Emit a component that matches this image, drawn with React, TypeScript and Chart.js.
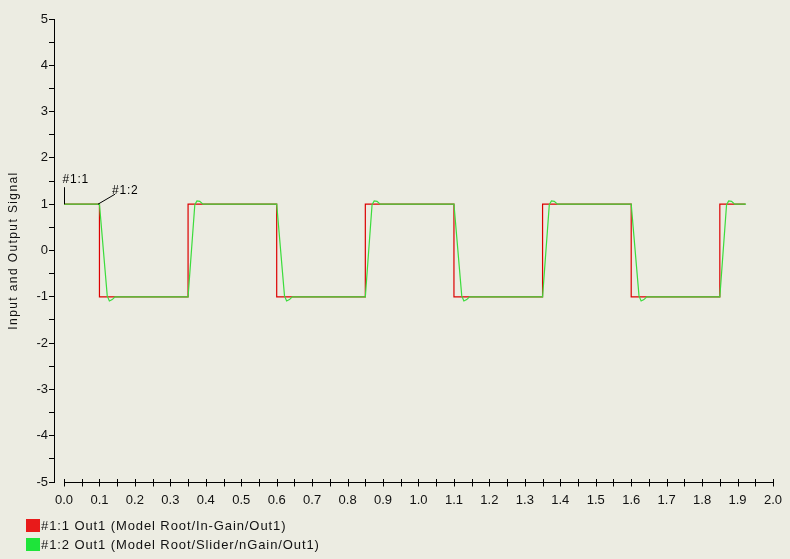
import React, { useEffect, useRef } from 'react';
import { Chart, registerables } from 'chart.js';

Chart.register(...registerables);

// Square-wave input (#1:1): time [s] and value pairs
const inputTime = [0, 0.1, 0.1, 0.35, 0.35, 0.6, 0.6, 0.85, 0.85, 1.1, 1.1, 1.35, 1.35, 1.6, 1.6, 1.85, 1.85, 1.922];
const inputValue = [1, 1, -1, -1, 1, 1, -1, -1, 1, 1, -1, -1, 1, 1, -1, -1, 1, 1];

// Filtered output (#1:2): lags each edge and rings slightly
const outputTime = [
  0, 0.1, 0.122, 0.128, 0.136, 0.144,
  0.35, 0.369, 0.375, 0.383, 0.392,
  0.6, 0.622, 0.628, 0.636, 0.644,
  0.85, 0.869, 0.875, 0.883, 0.892,
  1.1, 1.122, 1.128, 1.136, 1.144,
  1.35, 1.369, 1.375, 1.383, 1.392,
  1.6, 1.622, 1.628, 1.636, 1.644,
  1.85, 1.869, 1.875, 1.883, 1.892, 1.924,
];
const outputValue = [
  1, 1, -0.98, -1.09, -1.06, -1.0,
  -1, 0.99, 1.07, 1.06, 1.0,
  1, -0.98, -1.09, -1.06, -1.0,
  -1, 0.99, 1.07, 1.06, 1.0,
  1, -0.98, -1.09, -1.06, -1.0,
  -1, 0.99, 1.07, 1.06, 1.0,
  1, -0.98, -1.09, -1.06, -1.0,
  -1, 0.99, 1.07, 1.06, 1.0, 1.0,
];

// Axis ticks
const xTickValues = [
  0, 0.05, 0.1, 0.15, 0.2, 0.25, 0.3, 0.35, 0.4, 0.45, 0.5, 0.55, 0.6, 0.65, 0.7, 0.75, 0.8, 0.85, 0.9, 0.95,
  1.0, 1.05, 1.1, 1.15, 1.2, 1.25, 1.3, 1.35, 1.4, 1.45, 1.5, 1.55, 1.6, 1.65, 1.7, 1.75, 1.8, 1.85, 1.9, 1.95, 2.0,
];
const xTickLabels = ['0.0', '0.1', '0.2', '0.3', '0.4', '0.5', '0.6', '0.7', '0.8', '0.9', '1.0',
  '1.1', '1.2', '1.3', '1.4', '1.5', '1.6', '1.7', '1.8', '1.9', '2.0'];

const yAxisTitle = 'Input and Output Signal';
const seriesNames = ['#1:1 Out1 (Model Root/In-Gain/Out1)', '#1:2 Out1 (Model Root/Slider/nGain/Out1)'];
const seriesTags = ['#1:1', '#1:2'];
const seriesColors = ['#dc0000', '#3cdc3c'];
const legendColors = ['#e81a1a', '#1ee43a'];

const FONT = '"Liberation Sans", Arial, sans-serif';
const BG = '#ecece2';

const toPoints = (t: number[], v: number[]) => t.map((tt, i) => ({ x: tt, y: v[i] }));

// Axis line, crossing tick marks, the y title and the series tags
const decorPlugin = {
  id: 'decor',
  afterDraw(chart: any) {
    const { ctx, chartArea } = chart;
    const xs = chart.scales.x;
    const ys = chart.scales.y;
    const yb = Math.round(chartArea.bottom) + 0.5;
    ctx.save();
    ctx.strokeStyle = '#000';
    ctx.lineWidth = 1;
    ctx.beginPath();
    ctx.moveTo(Math.round(xs.getPixelForValue(0)), yb);
    ctx.lineTo(Math.round(xs.getPixelForValue(2)) + 1, yb);
    xTickValues.forEach((v) => {
      const px = Math.round(xs.getPixelForValue(v)) + 0.5;
      ctx.moveTo(px, yb - 3.5);
      ctx.lineTo(px, yb + 4);
    });
    ctx.stroke();

    // vertical axis title
    ctx.fillStyle = '#111';
    ctx.font = `12px ${FONT}`;
    (ctx as any).letterSpacing = '1.4px';
    ctx.save();
    ctx.translate(17, (chartArea.top + chartArea.bottom) / 2);
    ctx.rotate(-Math.PI / 2);
    ctx.textAlign = 'center';
    ctx.textBaseline = 'alphabetic';
    ctx.fillText(yAxisTitle, 0, 0);
    ctx.restore();

    // tag for #1:1, anchored at its first sample
    (ctx as any).letterSpacing = '0.8px';
    const a1x = Math.round(xs.getPixelForValue(inputTime[0])) + 0.5;
    const a1y = ys.getPixelForValue(inputValue[0]);
    ctx.beginPath();
    ctx.moveTo(a1x, a1y);
    ctx.lineTo(a1x, a1y - 17);
    ctx.stroke();
    ctx.fillStyle = '#000';
    ctx.font = `12px ${FONT}`;
    ctx.textBaseline = 'alphabetic';
    ctx.textAlign = 'left';
    ctx.fillText(seriesTags[0], a1x - 2, a1y - 21);

    // tag for #1:2
    const a2x = xs.getPixelForValue(0.096);
    const a2y = ys.getPixelForValue(outputValue[1]);
    ctx.beginPath();
    ctx.moveTo(a2x, a2y);
    ctx.lineTo(a2x + 17, a2y - 10);
    ctx.stroke();
    ctx.fillText(seriesTags[1], a2x + 14, a2y - 10);
    (ctx as any).letterSpacing = '0px';
    ctx.restore();
  },
};

export default function App() {
  const canvasRef = useRef<HTMLCanvasElement | null>(null);

  useEffect(() => {
    document.body.style.margin = '0';
    const canvas = canvasRef.current;
    if (!canvas) return;
    const chart = new Chart(canvas, {
      type: 'line',
      data: {
        datasets: [
          {
            label: seriesNames[0],
            data: toPoints(inputTime, inputValue),
            borderColor: seriesColors[0],
            borderWidth: 1.2,
            pointRadius: 0,
            tension: 0,
            order: 1,
          },
          {
            label: seriesNames[1],
            data: toPoints(outputTime, outputValue),
            borderColor: seriesColors[1],
            borderWidth: 1.2,
            pointRadius: 0,
            tension: 0,
            order: 0,
          },
        ],
      },
      options: {
        responsive: false,
        animation: false,
        layout: { padding: { left: 0, top: 19, right: 17, bottom: 47 } },
        plugins: { legend: { display: false }, tooltip: { enabled: false } },
        scales: {
          x: {
            type: 'linear',
            min: -0.0282,
            max: 2.0,
            afterBuildTicks: (scale: any) => {
              scale.ticks = xTickValues.map((v) => ({ value: v }));
            },
            afterFit: (scale: any) => {
              scale.height = 30;
              scale.paddingLeft = 0;
              scale.paddingRight = 0;
            },
            grid: { display: false, drawTicks: false, tickLength: 0 },
            border: { display: false },
            ticks: {
              autoSkip: false,
              maxRotation: 0,
              padding: 11,
              color: '#111',
              font: { family: FONT, size: 13 },
              callback: (value: any) => {
                const idx = Math.round(Number(value) * 10);
                return Math.abs(Number(value) * 10 - idx) < 1e-6 ? xTickLabels[idx] : '';
              },
            },
          },
          y: {
            type: 'linear',
            min: -5,
            max: 5,
            afterFit: (scale: any) => {
              scale.width = 54;
              scale.paddingTop = 0;
              scale.paddingBottom = 0;
            },
            grid: { drawOnChartArea: false, drawTicks: true, tickLength: 5, color: '#000' },
            border: { display: true, color: '#000' },
            title: { display: false },
            ticks: {
              stepSize: 0.5,
              autoSkip: false,
              padding: 1,
              color: '#111',
              font: { family: FONT, size: 13 },
              callback: (value: any) => (Number.isInteger(Number(value)) ? String(value) : ''),
            },
          },
        },
      },
      plugins: [decorPlugin],
    });
    return () => chart.destroy();
  }, []);

  return (
    <div style={{ position: 'relative', width: 790, height: 559, background: BG, fontFamily: FONT }}>
      <canvas ref={canvasRef} width={790} height={559} style={{ display: 'block' }} />
      {seriesNames.map((name, i) => (
        <div
          key={name}
          style={{
            position: 'absolute',
            left: 26,
            top: 518 + i * 19,
            height: 14,
            display: 'flex',
            alignItems: 'center',
            fontSize: 13,
            letterSpacing: '0.9px',
            color: '#111',
            whiteSpace: 'nowrap',
          }}
        >
          <span style={{ display: 'inline-block', width: 14, height: 13, background: legendColors[i], marginRight: 1 }} />
          <span>{name}</span>
        </div>
      ))}
    </div>
  );
}
